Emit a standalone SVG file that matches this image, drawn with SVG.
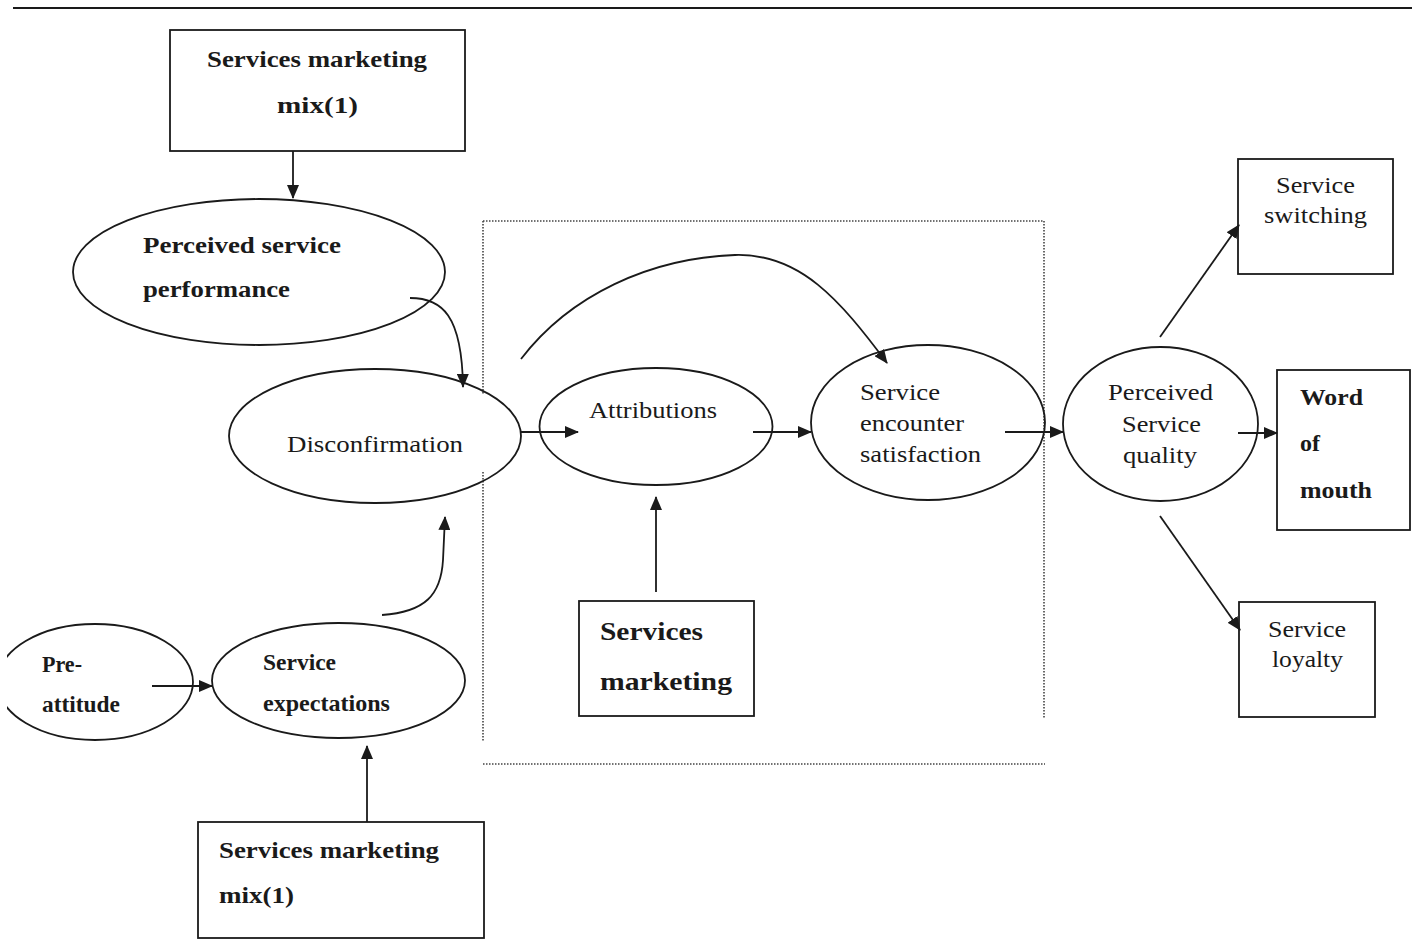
<svg xmlns="http://www.w3.org/2000/svg" width="1412" height="946" viewBox="0 0 1412 946">
<defs>
<marker id="ah" markerUnits="userSpaceOnUse" markerWidth="14" markerHeight="12" refX="13" refY="6" orient="auto">
<path d="M0,0 L14,6 L0,12 z" fill="#1a1a1a"/>
</marker>
<clipPath id="leftclip"><rect x="7" y="600" width="300" height="160"/></clipPath>
<style>
.b{fill:none;stroke:#1a1a1a;stroke-width:1.8}
.e{fill:none;stroke:#1a1a1a;stroke-width:1.8}
.c{fill:none;stroke:#1a1a1a;stroke-width:1.8;marker-end:url(#ah)}
.d{fill:none;stroke:#444;stroke-width:1.6;stroke-dasharray:1.5 1.5}
text{font-family:'Liberation Serif','Times New Roman',Times,serif;font-size:24px;fill:#1a1a1a}
.tb{font-weight:bold}
</style>
</defs>
<rect width="1412" height="946" fill="#fff"/>
<line x1="13" y1="8" x2="1412" y2="8" stroke="#1a1a1a" stroke-width="2"/>

<g id="frame">
<line class="d" x1="483" y1="221" x2="1044" y2="221"/>
<line class="d" x1="1044" y1="221" x2="1044" y2="718"/>
<line class="d" x1="483" y1="221" x2="483" y2="395"/>
<line class="d" x1="483" y1="472" x2="483" y2="742"/>
<line class="d" x1="483" y1="764" x2="1045" y2="764"/>
</g>

<g id="mix-top">
<rect class="b" x="170" y="30" width="295" height="121"/>
<text class="tb" x="207" y="67" textLength="220" lengthAdjust="spacingAndGlyphs">Services marketing</text>
<text class="tb" x="277" y="113" textLength="81" lengthAdjust="spacingAndGlyphs">mix(1)</text>
</g>

<g id="perceived-performance">
<ellipse class="e" cx="259" cy="272" rx="186" ry="73"/>
<text class="tb" x="143" y="253" textLength="198" lengthAdjust="spacingAndGlyphs">Perceived service</text>
<text class="tb" x="143" y="297" textLength="147" lengthAdjust="spacingAndGlyphs">performance</text>
</g>

<g id="disconfirmation">
<ellipse class="e" cx="375" cy="436" rx="146" ry="67"/>
<text x="287" y="452" textLength="176" lengthAdjust="spacingAndGlyphs">Disconfirmation</text>
</g>

<g id="pre-attitude">
<ellipse class="e" cx="95" cy="682" rx="98" ry="58" clip-path="url(#leftclip)"/>
<text class="tb" x="42" y="672" textLength="40" lengthAdjust="spacingAndGlyphs">Pre-</text>
<text class="tb" x="42" y="712" textLength="78" lengthAdjust="spacingAndGlyphs">attitude</text>
</g>

<g id="service-expectations">
<ellipse class="e" cx="338.5" cy="680.5" rx="126.5" ry="57.5"/>
<text class="tb" x="263" y="670" textLength="73" lengthAdjust="spacingAndGlyphs">Service</text>
<text class="tb" x="263" y="711" textLength="127" lengthAdjust="spacingAndGlyphs">expectations</text>
</g>

<g id="mix-bottom">
<rect class="b" x="198" y="822" width="286" height="116"/>
<text class="tb" x="219" y="858" textLength="220" lengthAdjust="spacingAndGlyphs">Services marketing</text>
<text class="tb" x="219" y="903" textLength="75" lengthAdjust="spacingAndGlyphs">mix(1)</text>
</g>

<g id="attributions">
<ellipse class="e" cx="656" cy="426.5" rx="116.5" ry="58.5"/>
<text x="589" y="418" textLength="128" lengthAdjust="spacingAndGlyphs">Attributions</text>
</g>

<g id="services-marketing">
<rect class="b" x="579" y="601" width="175" height="115"/>
<text class="tb" x="600" y="640" style="font-size:26px" textLength="103" lengthAdjust="spacingAndGlyphs">Services</text>
<text class="tb" x="600" y="690" style="font-size:26px" textLength="132" lengthAdjust="spacingAndGlyphs">marketing</text>
</g>

<g id="encounter-satisfaction">
<ellipse class="e" cx="928" cy="422.5" rx="117" ry="77.5"/>
<text x="860" y="400" textLength="80" lengthAdjust="spacingAndGlyphs">Service</text>
<text x="860" y="431" textLength="104" lengthAdjust="spacingAndGlyphs">encounter</text>
<text x="860" y="462" textLength="121" lengthAdjust="spacingAndGlyphs">satisfaction</text>
</g>

<g id="perceived-quality">
<ellipse class="e" cx="1160.5" cy="424" rx="97.5" ry="77"/>
<text x="1108" y="400" textLength="105" lengthAdjust="spacingAndGlyphs">Perceived</text>
<text x="1122" y="432" textLength="79" lengthAdjust="spacingAndGlyphs">Service</text>
<text x="1123" y="463" textLength="74" lengthAdjust="spacingAndGlyphs">quality</text>
</g>

<g id="switching">
<rect class="b" x="1238" y="159" width="155" height="115"/>
<text x="1276" y="193" textLength="79" lengthAdjust="spacingAndGlyphs">Service</text>
<text x="1264" y="223" textLength="103" lengthAdjust="spacingAndGlyphs">switching</text>
</g>

<g id="word-of-mouth">
<rect class="b" x="1277" y="370" width="133" height="160"/>
<text class="tb" x="1300" y="405" textLength="63" lengthAdjust="spacingAndGlyphs">Word</text>
<text class="tb" x="1300" y="451" textLength="20" lengthAdjust="spacingAndGlyphs">of</text>
<text class="tb" x="1300" y="498" textLength="72" lengthAdjust="spacingAndGlyphs">mouth</text>
</g>

<g id="loyalty">
<rect class="b" x="1239" y="602" width="136" height="115"/>
<text x="1268" y="637" textLength="78" lengthAdjust="spacingAndGlyphs">Service</text>
<text x="1272" y="667" textLength="71" lengthAdjust="spacingAndGlyphs">loyalty</text>
</g>

<g id="connectors">
<line class="c" x1="293" y1="151" x2="293" y2="198"/>
<path class="c" d="M410,298 C442,298 462,315 463,387"/>
<path class="c" d="M382,615 C425,612 441,595 443,560 L445,517"/>
<line class="c" x1="152" y1="686" x2="212" y2="686"/>
<line class="c" x1="367" y1="822" x2="367" y2="746"/>
<line class="c" x1="521" y1="432" x2="578" y2="432"/>
<path class="c" d="M521,359 C570,295 650,258 735,255 C800,253 840,300 887,363"/>
<line class="c" x1="656" y1="592" x2="656" y2="497"/>
<line class="c" x1="753" y1="432" x2="811" y2="432"/>
<line class="c" x1="1005" y1="432" x2="1063" y2="432"/>
<line class="c" x1="1160" y1="337" x2="1239" y2="225"/>
<line class="c" x1="1238" y1="433" x2="1277" y2="433"/>
<line class="c" x1="1160" y1="516" x2="1240" y2="630"/>
</g>
</svg>
